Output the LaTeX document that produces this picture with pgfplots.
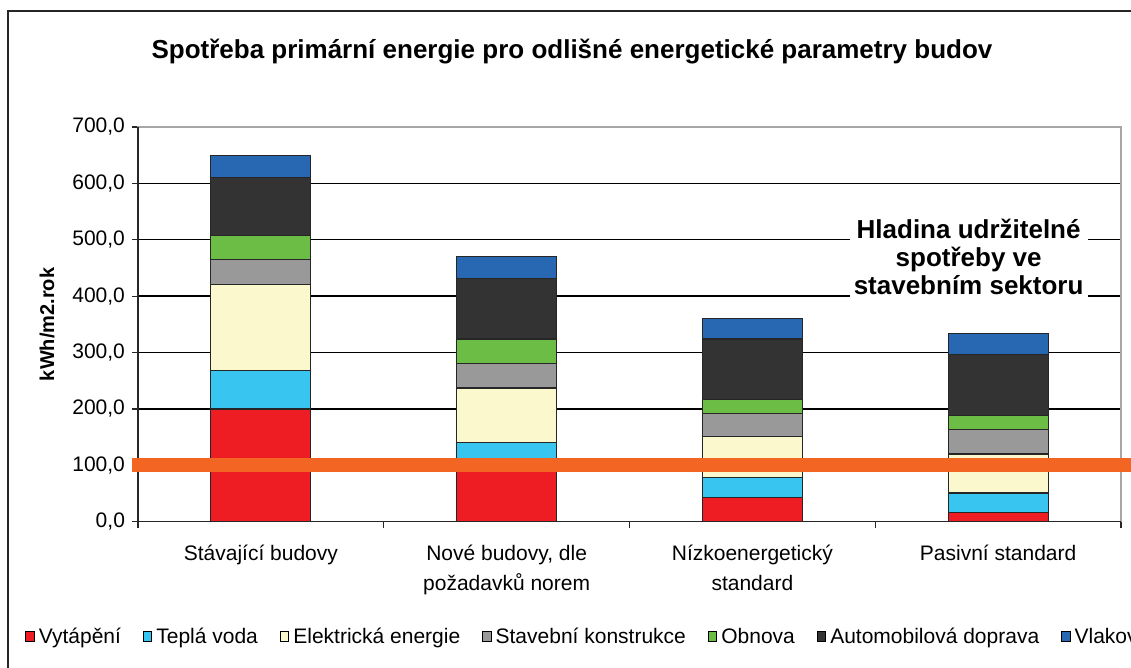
\documentclass[border=0pt]{standalone}
\usepackage{fontspec}
\setmainfont{Liberation Sans}
\usepackage{pgfplots}
\usepackage{pgfplotstable}
\pgfplotsset{compat=1.18}

\definecolor{cVyt}{HTML}{EE1D23}
\definecolor{cTep}{HTML}{38C6F0}
\definecolor{cEle}{HTML}{FBF8CE}
\definecolor{cSta}{HTML}{999999}
\definecolor{cObn}{HTML}{6CBD45}
\definecolor{cAut}{HTML}{333333}
\definecolor{cVla}{HTML}{2867B2}
\definecolor{cLine}{HTML}{F26522}

% segments of each stacked bar, kWh/m2.rok
\pgfplotstableread{
x vyt tep ele sta obn aut vla
0 200 68 152 45 42 104 38
1 105 35 97 44 43 108 38
2 43 35 73 41 25 107 37
3 16 35 69 44 24 108 38
}\spotreba

\begin{document}
\begin{tikzpicture}
\path[use as bounding box, clip] (0,0) rectangle (565.5pt,334pt);
\draw[black!85, line width=0.7pt] (4pt,-20pt) rectangle (600pt,328.5pt);
\begin{axis}[
	at={(69pt,73.15pt)}, anchor=south west,
	scale only axis,
	width=491.5pt, height=197.35pt,
	ybar stacked,
	bar width=50pt,
	xmin=-0.5, xmax=3.5,
	ymin=0, ymax=700,
	enlarge x limits=false,
	clip=false,
	axis line style={draw=gray!70, line width=0.6pt},
	ytick={0,100,...,700},
	ymajorgrids,
	major grid style={black, line width=0.7pt},
	tick align=outside,
	xtick pos=bottom, ytick pos=left,
	major tick length=3pt,
	tick style={black!85, line width=0.6pt},
	yticklabel style={font=\fontsize{10.5}{12}\selectfont},
	/pgf/number format/.cd, fixed, fixed zerofill, precision=1, use comma, 1000 sep={}, assume math mode=true,
	/pgfplots/.cd,
	xtick={-0.5,0.5,1.5,2.5,3.5},
	xticklabels={},
	extra x ticks={0,1,2,3},
	extra x tick labels={Stávající budovy,{Nové budovy, dle\\požadavků norem},{Nízkoenergetický\\standard},Pasivní standard},
	extra x tick style={major tick length=0pt, xticklabel style={align=center, font=\fontsize{10.5}{15}\selectfont, yshift=-8pt}},
	ylabel={kWh/m2.rok},
	ylabel style={at={(axis description cs:-0.0926,0.5)}, anchor=center, font=\bfseries\fontsize{10}{12}\selectfont},
	title={Spotřeba primární energie pro odlišné energetické parametry budov},
	title style={at={(axis description cs:0.4415,1.162)}, anchor=center, font=\bfseries\fontsize{13}{15}\selectfont},
	legend columns=7,
	legend style={at={(axis description cs:-0.121,-0.292)}, anchor=west, draw=none, fill=none,
		font=\fontsize{10.5}{12}\selectfont,
		/tikz/every even column/.append style={column sep=9pt}},
	legend image code/.code={\draw[#1, draw=black, line width=0.5pt] (0pt,-2.5pt) rectangle (4.2pt,2.5pt);},
	every axis plot/.append style={draw=black!85, line width=0.6pt},
]
\addplot[fill=cVyt] table[x=x, y=vyt] {\spotreba};
\addplot[fill=cTep] table[x=x, y=tep] {\spotreba};
\addplot[fill=cEle] table[x=x, y=ele] {\spotreba};
\addplot[fill=cSta] table[x=x, y=sta] {\spotreba};
\addplot[fill=cObn] table[x=x, y=obn] {\spotreba};
\addplot[fill=cAut] table[x=x, y=aut] {\spotreba};
\addplot[fill=cVla] table[x=x, y=vla] {\spotreba};
\legend{Vytápění,Teplá voda,Elektrická energie,Stavební konstrukce,Obnova,Automobilová doprava,Vlaková doprava}
\draw[black!85, line width=0.6pt] (rel axis cs:0,1) -- (rel axis cs:0,0) -- (rel axis cs:1,0);
\end{axis}
\begin{axis}[
	at={(69pt,73.15pt)}, anchor=south west,
	scale only axis,
	width=491.5pt, height=197.35pt,
	xmin=-0.5, xmax=3.5,
	ymin=0, ymax=700,
	clip=false,
	hide axis,
]
\addplot[cLine, line width=7pt, forget plot] coordinates {(-0.525,101) (3.7,101)};
\node[fill=white, align=center, inner sep=2pt, font=\bfseries\fontsize{13}{14}\selectfont] at (axis cs:2.88,469) {Hladina udržitelné\\spotřeby ve\\stavebním sektoru};
\end{axis}
\end{tikzpicture}
\end{document}
